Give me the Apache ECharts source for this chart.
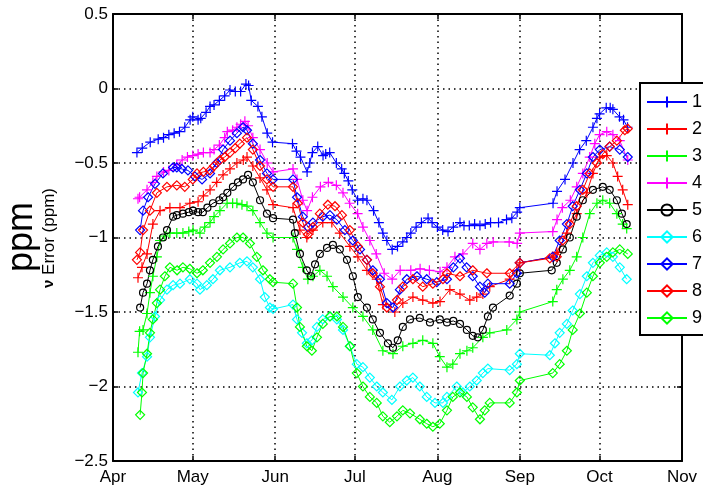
<!DOCTYPE html>
<html>
<head>
<meta charset="utf-8">
<script src="https://cdn.jsdelivr.net/npm/echarts@6/dist/echarts.min.js"></script>
<style>
html, body { margin: 0; padding: 0; background: #fff; }
#main { width: 703px; height: 491px; }
</style>
</head>
<body>
<div id="main"></div>
<script>
// x = days since 1 Apr, y = error in ppm
const monthDays = [0, 30, 61, 91, 122, 153, 183, 214];
const monthLabels = ['Apr', 'May', 'Jun', 'Jul', 'Aug', 'Sep', 'Oct', 'Nov'];
const names = ['1', '2', '3', '4', '5', '6', '7', '8', '9'];

const s1 = [[9,-0.43],[11,-0.40],[14,-0.36],[17,-0.34],[19,-0.33],[21,-0.31],[23,-0.30],[25,-0.29],[27,-0.26],[29,-0.21],[30,-0.19],[32,-0.21],[33,-0.20],[35,-0.16],[36.5,-0.12],[38,-0.11],[40,-0.08],[42,-0.05],[44,-0.01],[46,-0.02],[48,-0.02],[50,0.03],[51,0.02],[52,-0.08],[54.5,-0.12],[56,-0.19],[58,-0.30],[60,-0.36],[67.5,-0.37],[69,-0.42],[70.5,-0.46],[73,-0.56],[74,-0.50],[75,-0.43],[77,-0.39],[79,-0.45],[80,-0.44],[81.5,-0.43],[84,-0.50],[86,-0.54],[87,-0.57],[88.5,-0.62],[90,-0.68],[92,-0.75],[94,-0.74],[95.5,-0.75],[98,-0.82],[100,-0.90],[101.5,-0.97],[103,-1.02],[105,-1.08],[107,-1.06],[109,-1.03],[110.5,-1.00],[112,-0.97],[114,-0.93],[116,-0.90],[118.5,-0.87],[120,-0.90],[122,-0.93],[124,-0.95],[126,-0.96],[128,-0.93],[130.5,-0.90],[132,-0.92],[134,-0.92],[136,-0.91],[138,-0.92],[140,-0.91],[142,-0.90],[145,-0.90],[148,-0.88],[150,-0.87],[152,-0.83],[153,-0.80],[165.5,-0.77],[167,-0.69],[170,-0.61],[173,-0.50],[175.5,-0.41],[178,-0.35],[180.5,-0.26],[182,-0.20],[183,-0.17],[185.5,-0.13],[187,-0.13],[188,-0.14],[190.5,-0.19],[192,-0.21],[193.5,-0.26]];

const s2 = [[9.4,-1.27],[10.9,-1.20],[12.8,-1.11],[15,-0.91],[17.7,-0.82],[21.4,-0.80],[25.2,-0.80],[28.9,-0.77],[32,-0.76],[34,-0.72],[36.5,-0.68],[39,-0.63],[41.4,-0.58],[44,-0.54],[46.6,-0.50],[49,-0.48],[50.4,-0.46],[52.6,-0.52],[55.3,-0.60],[57.9,-0.68],[60.2,-0.78],[67.7,-0.80],[70.3,-0.95],[72.9,-1.00],[75.2,-0.95],[78.9,-0.90],[82.3,-0.90],[85.3,-0.97],[89.1,-1.06],[92.1,-1.13],[95.5,-1.22],[99.2,-1.28],[101.5,-1.45],[106,-1.50],[109,-1.44],[112.8,-1.40],[116.5,-1.42],[120.3,-1.44],[123,-1.43],[126.7,-1.35],[130.5,-1.38],[134.2,-1.42],[136.8,-1.40],[139.1,-1.38],[141.7,-1.33],[149.2,-1.28],[151.9,-1.22],[153,-1.17],[165.4,-1.13],[166.9,-1.10],[170.7,-0.97],[174.4,-0.84],[178.2,-0.70],[180.5,-0.57],[183.1,-0.46],[185.7,-0.45],[188,-0.50],[189.8,-0.59],[191.7,-0.68],[193.6,-0.78]];

const s3 = [[9.4,-1.77],[10,-1.63],[11.3,-1.62],[12.8,-1.51],[13.9,-1.37],[15,-1.26],[16.5,-1.13],[17.7,-1.02],[19.5,-0.99],[21.4,-0.97],[24,-0.97],[26.3,-0.97],[28.5,-0.96],[30.1,-0.95],[32.7,-0.97],[34.5,-0.93],[36.5,-0.90],[38,-0.86],[40.2,-0.82],[42.9,-0.77],[45,-0.77],[46.6,-0.77],[48.5,-0.78],[50.4,-0.79],[52.6,-0.82],[55.3,-0.90],[57.9,-0.97],[60.2,-1.00],[67.7,-1.00],[69.2,-1.08],[71.4,-1.20],[73.3,-1.28],[75.2,-1.26],[77.8,-1.22],[80.5,-1.26],[82.7,-1.33],[86.5,-1.40],[90.2,-1.47],[94,-1.53],[97.7,-1.62],[101.5,-1.76],[105.3,-1.78],[109,-1.73],[112.8,-1.71],[116.5,-1.69],[120.3,-1.71],[122.9,-1.80],[125.6,-1.87],[127.8,-1.85],[130.5,-1.78],[133.1,-1.76],[135.3,-1.74],[139.1,-1.67],[141.7,-1.64],[148.1,-1.62],[151.9,-1.55],[153,-1.50],[165.4,-1.43],[166.9,-1.35],[169.2,-1.28],[171.8,-1.22],[174.4,-1.13],[176.7,-1.00],[179.3,-0.84],[182,-0.77],[184.2,-0.75],[186.8,-0.77],[189.5,-0.84],[191.7,-0.91],[193.2,-0.94]];

const s4 = [[9.4,-0.74],[10,-0.73],[12.8,-0.68],[15,-0.63],[16.5,-0.59],[19,-0.56],[21,-0.55],[24,-0.51],[26,-0.48],[28,-0.46],[30,-0.45],[32,-0.44],[34,-0.43],[36.5,-0.43],[38,-0.41],[40,-0.38],[42,-0.33],[43,-0.29],[45,-0.28],[46.6,-0.26],[48,-0.24],[49.6,-0.22],[50.8,-0.25],[52.6,-0.33],[55.3,-0.41],[58,-0.50],[60.2,-0.56],[67.7,-0.54],[69.2,-0.61],[71.4,-0.75],[73,-0.82],[75,-0.73],[78,-0.66],[81,-0.63],[84,-0.65],[86.5,-0.70],[89,-0.77],[92,-0.84],[94,-0.93],[96.6,-1.02],[99,-1.11],[102,-1.24],[105,-1.28],[108,-1.22],[112,-1.22],[115.5,-1.21],[119,-1.22],[123,-1.23],[125.6,-1.20],[128.6,-1.13],[131.6,-1.11],[135.3,-1.04],[138,-1.08],[140.6,-1.04],[143,-1.03],[149,-1.03],[152,-1.04],[153,-0.97],[165.4,-0.96],[167,-0.88],[169,-0.80],[172,-0.75],[174.4,-0.66],[176.7,-0.57],[179.3,-0.46],[181.2,-0.37],[183,-0.31],[185.7,-0.29],[188,-0.31],[190.6,-0.35],[193.6,-0.48]];

const s5 = [[10.2,-1.47],[11.3,-1.37],[12.8,-1.31],[13.9,-1.22],[15,-1.15],[16.9,-1.06],[18.8,-1.00],[20.3,-0.95],[22.6,-0.86],[24,-0.85],[26.3,-0.84],[28.5,-0.83],[30.1,-0.82],[32,-0.83],[33.8,-0.83],[35.5,-0.80],[37.6,-0.77],[40,-0.75],[41.4,-0.73],[43,-0.70],[45.1,-0.66],[47,-0.63],[48.9,-0.61],[50.8,-0.58],[52.6,-0.63],[55.3,-0.75],[57.9,-0.84],[60.2,-0.87],[67.7,-0.88],[68.4,-0.97],[70.3,-1.11],[72.9,-1.22],[74.5,-1.26],[76,-1.18],[77.8,-1.11],[80.5,-1.07],[82.7,-1.05],[85.3,-1.08],[88,-1.15],[90.2,-1.26],[92.1,-1.40],[95.5,-1.47],[97.7,-1.55],[100.4,-1.64],[103.4,-1.71],[105.3,-1.74],[107.1,-1.69],[109,-1.60],[111.7,-1.55],[115.4,-1.54],[119.2,-1.57],[122.9,-1.55],[125.6,-1.57],[128,-1.56],[130.5,-1.58],[133.1,-1.62],[135.3,-1.66],[137.2,-1.67],[139.1,-1.62],[141,-1.53],[142.9,-1.47],[149.2,-1.39],[151.9,-1.31],[153,-1.24],[165,-1.22],[166.9,-1.17],[169.2,-1.08],[171.8,-1.00],[174.4,-0.86],[176.7,-0.75],[180.5,-0.68],[184.2,-0.66],[186.8,-0.68],[189.5,-0.75],[191.4,-0.84],[193.2,-0.91]];

const s6 = [[9.4,-2.04],[10.9,-1.91],[12.8,-1.80],[13.9,-1.67],[15.8,-1.53],[17.7,-1.42],[20.3,-1.35],[22.6,-1.32],[25.2,-1.31],[28.9,-1.28],[31.6,-1.31],[32.7,-1.35],[35.3,-1.32],[37.6,-1.28],[40.2,-1.22],[44,-1.20],[47.7,-1.17],[50.4,-1.16],[52.6,-1.20],[55.3,-1.28],[57.1,-1.40],[59,-1.47],[60.2,-1.48],[67.7,-1.45],[69.2,-1.55],[71.1,-1.64],[72.9,-1.71],[74.8,-1.69],[76.7,-1.60],[78.9,-1.55],[81.6,-1.53],[84.2,-1.55],[86.5,-1.62],[89.1,-1.73],[91.7,-1.85],[94,-1.87],[96.6,-1.94],[99.2,-2.00],[101.5,-2.04],[104.9,-2.09],[107.9,-2.00],[110.5,-1.96],[112.8,-1.94],[115.4,-2.00],[118,-2.07],[121.1,-2.11],[124.1,-2.11],[125.6,-2.07],[129.3,-2.00],[131.6,-2.04],[134.2,-2.00],[136.8,-1.96],[139.1,-1.91],[141,-1.88],[149.2,-1.89],[151.9,-1.85],[153,-1.78],[164.3,-1.79],[166.2,-1.71],[168,-1.64],[170.7,-1.58],[172.9,-1.49],[175.6,-1.38],[178.2,-1.26],[180.5,-1.17],[183.1,-1.12],[185.7,-1.10],[188,-1.13],[190.6,-1.20],[193.2,-1.28]];

const s7 = [[10.2,-0.95],[11.3,-0.82],[13.2,-0.73],[15.8,-0.64],[18.8,-0.57],[22.6,-0.53],[24,-0.53],[25.9,-0.54],[28.2,-0.55],[30.8,-0.59],[33.5,-0.61],[36.5,-0.57],[39,-0.50],[41.4,-0.41],[44,-0.35],[46.6,-0.30],[48.9,-0.26],[50.4,-0.28],[52.6,-0.37],[55.3,-0.48],[57.9,-0.57],[60.2,-0.61],[67.7,-0.61],[69.2,-0.73],[71.4,-0.86],[73.3,-0.93],[75.2,-0.90],[78.9,-0.86],[81.6,-0.85],[84.2,-0.88],[87.2,-0.95],[90.2,-1.02],[92.9,-1.08],[95.5,-1.15],[97.7,-1.22],[100.4,-1.28],[103,-1.44],[105.3,-1.47],[107.9,-1.35],[110.5,-1.28],[114.3,-1.26],[118,-1.28],[121.8,-1.30],[125.6,-1.28],[128,-1.20],[130.5,-1.14],[133,-1.20],[135.3,-1.26],[138,-1.33],[139.8,-1.37],[141,-1.31],[149.2,-1.31],[151.9,-1.24],[153,-1.17],[165.4,-1.13],[168,-1.02],[170.7,-0.91],[172.9,-0.79],[175.6,-0.68],[178.2,-0.57],[180.5,-0.46],[183.1,-0.41],[186.8,-0.39],[190.6,-0.41],[193.6,-0.46]];

const s8 = [[9,-1.15],[10.2,-1.10],[11.3,-0.95],[13.9,-0.82],[16.5,-0.70],[20.3,-0.66],[24,-0.65],[27,-0.66],[30,-0.61],[31.6,-0.57],[34,-0.56],[36.5,-0.55],[38,-0.52],[40.2,-0.48],[42,-0.46],[44,-0.43],[46,-0.40],[47.7,-0.37],[50.4,-0.33],[52.6,-0.41],[55.3,-0.52],[57.9,-0.61],[60.2,-0.66],[67.7,-0.66],[69.5,-0.77],[71.4,-0.90],[73.3,-0.98],[75.2,-0.93],[77.8,-0.84],[80.8,-0.78],[83.5,-0.79],[86.1,-0.85],[89.1,-0.95],[92.1,-1.06],[95.5,-1.15],[97.7,-1.24],[100.4,-1.33],[103,-1.47],[106.8,-1.42],[109,-1.33],[112.8,-1.28],[116.5,-1.33],[120.3,-1.31],[124.1,-1.28],[125.6,-1.24],[130.5,-1.26],[135.3,-1.22],[140.6,-1.24],[149.2,-1.24],[153,-1.17],[164.3,-1.14],[166.9,-1.13],[169.2,-1.02],[171.8,-0.91],[174.4,-0.79],[176.7,-0.68],[179.3,-0.57],[182,-0.50],[184.2,-0.44],[186.8,-0.39],[189.5,-0.35],[192.5,-0.28],[193.6,-0.27]];

const s9 = [[10.2,-2.19],[10.9,-2.04],[11.3,-1.91],[12.8,-1.78],[13.9,-1.64],[15,-1.55],[16.5,-1.44],[17.7,-1.35],[19.5,-1.26],[21.4,-1.20],[24.1,-1.22],[26.3,-1.20],[28.9,-1.21],[31.6,-1.24],[33.8,-1.22],[36.5,-1.17],[39.1,-1.13],[41.4,-1.08],[44,-1.04],[46.6,-1.00],[48.9,-1.00],[51.5,-1.04],[54.1,-1.13],[56.4,-1.22],[59,-1.28],[60.2,-1.30],[67.7,-1.31],[69.2,-1.47],[70.3,-1.60],[72.9,-1.73],[74.8,-1.76],[76.7,-1.67],[78.9,-1.58],[81.6,-1.53],[84.2,-1.53],[86.5,-1.60],[89.1,-1.73],[91.7,-1.91],[94,-2.00],[96.6,-2.07],[99.2,-2.11],[101.5,-2.20],[104.1,-2.24],[106.8,-2.20],[109,-2.16],[111.7,-2.18],[115.4,-2.22],[118,-2.25],[120.3,-2.27],[122.9,-2.25],[125.6,-2.16],[127.8,-2.07],[130.5,-2.04],[133.1,-2.07],[135.3,-2.14],[138,-2.22],[139.8,-2.16],[141.7,-2.11],[149.2,-2.11],[151.9,-2.04],[153,-1.96],[165.4,-1.91],[168,-1.85],[170.7,-1.76],[172.9,-1.62],[175.6,-1.51],[178.2,-1.37],[180.5,-1.26],[183.1,-1.17],[185.7,-1.13],[188,-1.10],[190.6,-1.08],[193.6,-1.11]];

const allData = [s1, s2, s3, s4, s5, s6, s7, s8, s9];
const colors = ['#0000ff', '#ff0000', '#00ff00', '#ff00ff', '#000000', '#00ffff', '#0000ff', '#ff0000', '#00ff00'];
const plus = 'path://M5,0L5,10M0,5L10,5';
const symbols = [plus, plus, plus, plus, 'circle', 'diamond', 'diamond', 'diamond', 'diamond'];
const sizes = [10, 10, 10, 10, 7, 9, 9, 9, 9];

const font = '"Liberation Sans", Arial, sans-serif';
let myChart = echarts.init(document.getElementById('main'));

let series = allData.map(function (d, i) {
	return {
		name: names[i],
		type: 'line',
		data: d,
		symbol: symbols[i],
		symbolSize: sizes[i],
		showSymbol: true,
		lineStyle: { color: colors[i], width: 1 },
		itemStyle: { color: 'rgba(0,0,0,0)', borderColor: colors[i], borderWidth: 1.2 },
		emphasis: { disabled: true }
	};
});

const dotted = { show: true, lineStyle: { color: '#000', width: 1.5, type: [1.5, 4] } };
const monthLabel = function (v) { return monthLabels[monthDays.indexOf(v)]; };
const minus = function (v) { return String(v).replace('-', '\u2212'); };
const boxLine = { show: true, onZero: false, lineStyle: { color: '#000', width: 2 } };
const inTick = { show: true, inside: true, length: 5, lineStyle: { color: '#000', width: 1.5 } };

let option = {
	animation: false,
	backgroundColor: '#fff',
	grid: { left: 113, right: 21, top: 14, bottom: 30 },
	xAxis: [{
		type: 'value', min: 0, max: 214, position: 'bottom',
		axisLine: boxLine,
		axisTick: Object.assign({ customValues: monthDays }, inTick),
		axisLabel: { customValues: monthDays, formatter: monthLabel, color: '#000', fontSize: 17, fontFamily: font, margin: 8, showMinLabel: true, showMaxLabel: true },
		splitLine: dotted
	}, {
		type: 'value', min: 0, max: 214, position: 'top',
		axisLine: boxLine,
		axisTick: Object.assign({ customValues: monthDays }, inTick),
		axisLabel: { show: false },
		splitLine: { show: false }
	}],
	yAxis: [{
		type: 'value', min: -2.5, max: 0.5, interval: 0.5, position: 'left',
		axisLine: boxLine,
		axisTick: inTick,
		axisLabel: { formatter: minus, color: '#000', fontSize: 17, fontFamily: font, margin: 5 },
		splitLine: dotted
	}, {
		type: 'value', min: -2.5, max: 0.5, interval: 0.5, position: 'right',
		axisLine: boxLine,
		axisTick: inTick,
		axisLabel: { show: false },
		splitLine: { show: false }
	}],
	legend: {
		orient: 'vertical',
		left: 640,
		top: 83,
		padding: [10, 30, 8, 6],
		itemGap: 9,
		itemWidth: 40,
		itemHeight: 14,
		backgroundColor: '#fff',
		borderColor: '#000',
		borderWidth: 2,
		borderRadius: 0,
		textStyle: { color: '#000', fontSize: 18, fontFamily: font, lineHeight: 18 },
		data: names
	},
	graphic: [{
		type: 'text', x: 22, y: 237, rotation: Math.PI / 2,
		style: { text: 'ppm', font: '36px ' + font, fill: '#000', align: 'center', verticalAlign: 'middle' }
	}, {
		type: 'text', x: 49, y: 238, rotation: Math.PI / 2,
		style: {
			text: '{b|\u03bd} Error (ppm)', fill: '#000', align: 'center', verticalAlign: 'middle',
			fontSize: 17, fontFamily: font,
			rich: { b: { fontWeight: 'bold', fontSize: 15, fontFamily: font } }
		}
	}],
	series: series
};

myChart.setOption(option);
</script>
</body>
</html>
